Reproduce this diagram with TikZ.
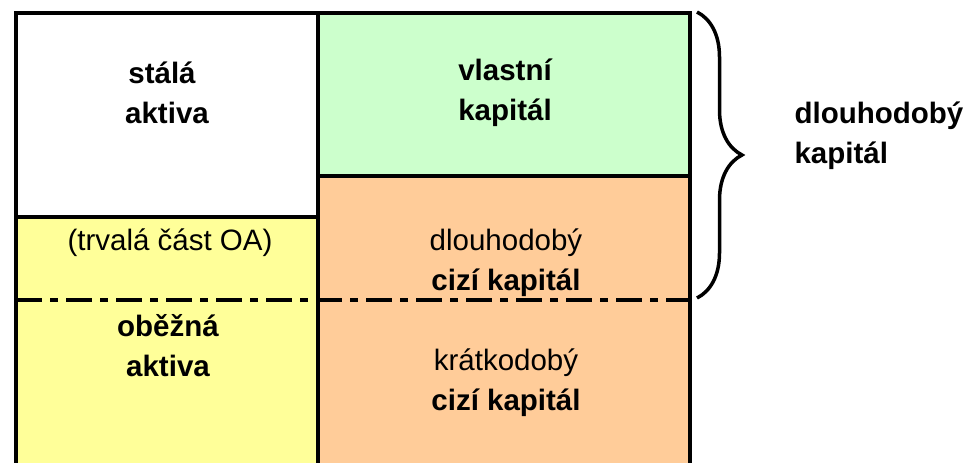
\documentclass[tikz,border=0pt]{standalone}
\usepackage{fontspec}
\setmainfont{Liberation Sans}
\usetikzlibrary{decorations.pathreplacing}
\definecolor{zelena}{HTML}{CCFFCC}
\definecolor{oranzova}{HTML}{FFCC99}
\definecolor{zluta}{HTML}{FFFF99}
\begin{document}
\begin{tikzpicture}[x=1pt,y=-1pt,
    popis/.style={align=center,font=\fontsize{29.5}{40}\selectfont},
    tucny/.style={popis,font=\fontsize{29.5}{40}\selectfont\bfseries},
    hranice/.style={line width=4pt}]
  \useasboundingbox (0,0) rectangle (980,463);
  % plochy
  \fill[white] (16,13) rectangle (318,217);
  \fill[zluta] (16,217) rectangle (318,463);
  \fill[zelena] (318,13) rectangle (690,176);
  \fill[oranzova] (318,176) rectangle (690,463);
  % hranice
  \draw[hranice] (16,463) -- (16,13) -- (690,13) -- (690,463);
  \draw[hranice] (318,13) -- (318,463);
  \draw[hranice] (16,217) -- (318,217);
  \draw[hranice] (318,176) -- (690,176);
  % dlouhodoba / kratkodoba hranice
  \draw[line width=3.5pt,dash pattern=on 26pt off 8pt on 8pt off 8pt] (16,300) -- (690,300);
  % aktiva
  \node[tucny] (stala) at (167,93) {stálá\hspace*{10pt}\\aktiva};
  \node[popis] (trvala) at (170,243) {(trvalá část OA)};
  \node[tucny] (obezna) at (168,346) {oběžná\\aktiva};
  % pasiva
  \node[tucny] (vlastni) at (505,93) {vlastní\\kapitál};
  \node[popis] (dlouhy) at (506,263) {dlouhodobý\\\textbf{cizí kapitál}};
  \node[popis] (kratky) at (506,383) {krátkodobý\\\textbf{cizí kapitál}};
  % slozena zavorka
  \coordinate (zavorka nahore) at (697,12);
  \coordinate (zavorka dole) at (697,298);
  \draw[line width=3.5pt,decorate,decoration={brace,amplitude=45pt}]
    (zavorka nahore) -- (zavorka dole);
  \node[tucny,align=left,anchor=west] (dlouhodoby) at (791,136) {dlouhodobý\\kapitál};
\end{tikzpicture}
\end{document}
